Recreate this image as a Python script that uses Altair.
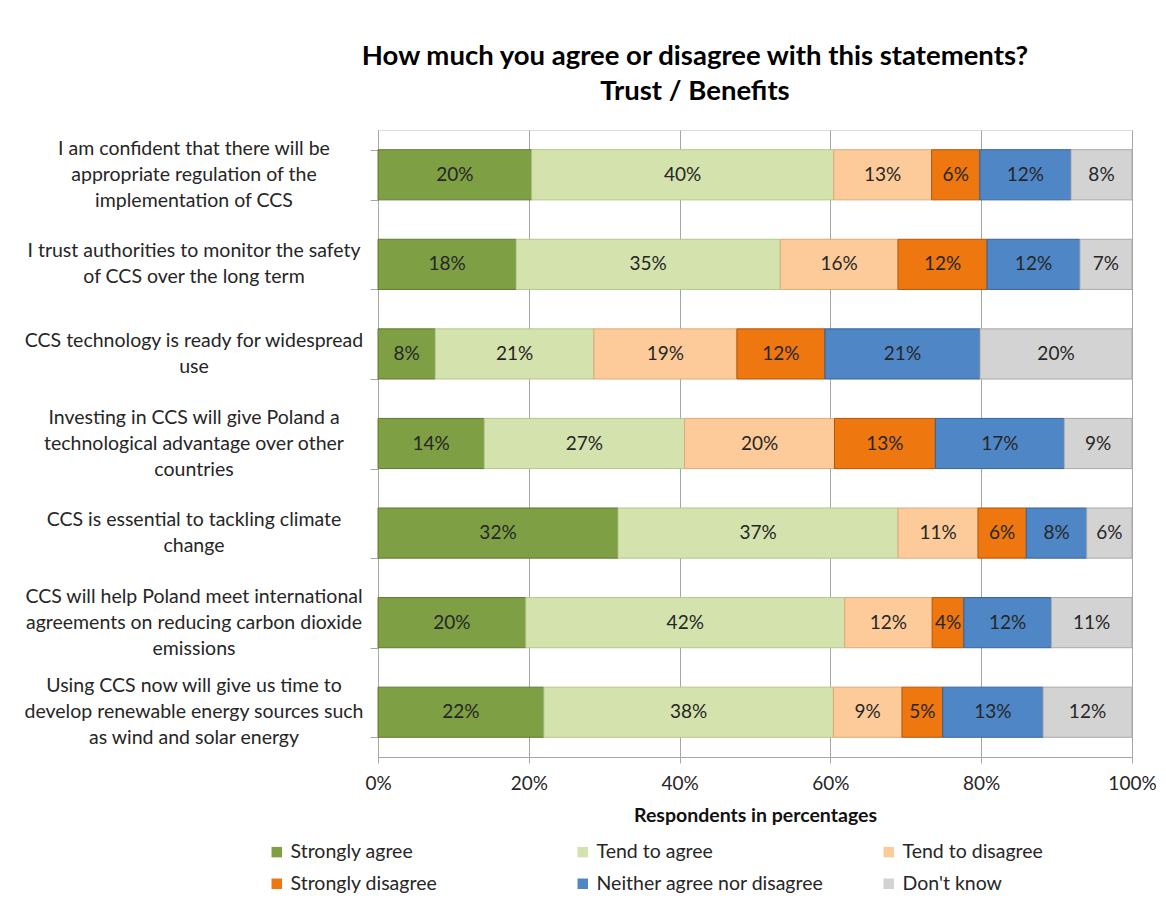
import altair as alt
import pandas as pd

statement_lines = [
    ["I am confident that there will be", "appropriate  regulation of the", "implementation of CCS"],
    ["I trust authorities to monitor the safety", "of CCS over the long term"],
    ["CCS technology is ready for widespread", "use"],
    ["Investing in CCS will give Poland a", "technological advantage over other", "countries"],
    ["CCS is essential to tackling climate", "change"],
    ["CCS will help Poland meet international", "agreements on reducing carbon dioxide", "emissions"],
    ["Using CCS now will give us time to", "develop renewable energy sources such", "as wind and solar energy"],
]

categories = ["Strongly agree", "Tend to agree", "Tend to disagree",
              "Strongly disagree", "Neither agree nor disagree", "Don't know"]

strongly_agree = [20.4, 18.3, 7.6, 14.1, 31.8, 19.6, 22.0]
tend_to_agree = [40.1, 35.0, 21.1, 26.6, 37.1, 42.3, 38.4]
tend_to_disagree = [13.0, 15.6, 19.0, 19.9, 10.6, 11.6, 9.1]
strongly_disagree = [6.4, 11.8, 11.7, 13.4, 6.4, 4.2, 5.4]
neither = [12.1, 12.3, 20.6, 17.1, 8.0, 11.6, 13.3]
dont_know = [8.1, 6.9, 20.2, 9.0, 6.0, 10.7, 11.8]

series = [strongly_agree, tend_to_agree, tend_to_disagree,
          strongly_disagree, neither, dont_know]

fill_colors = ["#7F9F44", "#D4E3AD", "#FDCB9A", "#EE770F", "#4F86C6", "#D3D3D3"]
edge_colors = ["#5E7A30", "#B3C78A", "#DDAA78", "#B4560A", "#386299", "#A8A8A8"]

statements = [" ".join(lines) for lines in statement_lines]

rows = []
for ci, (cat, vals) in enumerate(zip(categories, series)):
    for si, st in enumerate(statements):
        rows.append({"statement": st, "category": cat, "order": ci, "value": vals[si]})
df = pd.DataFrame(rows)

LINE_H = 26
line_rows = []
for st, lines in zip(statements, statement_lines):
    n = len(lines)
    for k, ln in enumerate(lines):
        line_rows.append({"statement": st, "line": ln,
                          "off": int((k - (n - 1) / 2) * LINE_H)})
line_df = pd.DataFrame(line_rows)

FONT = "Lato"
TXT = "#262626"
GRID = "#A6A6A6"

base = alt.Chart(df).transform_stack(
    stack="value", groupby=["statement"], as_=["v0", "v1"],
    sort=[alt.SortField("order", order="ascending")], offset="normalize"
).transform_calculate(
    mid="(datum.v0 + datum.v1) / 2",
    lbl="format(datum.value, '.0f') + '%'"
)

y_enc = alt.Y(
    "statement:N", sort=statements, title=None,
    scale=alt.Scale(paddingInner=0.44, paddingOuter=0.22),
    axis=alt.Axis(
        labels=False, tickSize=8, tickColor=GRID, domainColor=GRID,
        tickBand="extent", grid=False,
    ),
)

bars = base.mark_bar(strokeWidth=1).encode(
    y=y_enc,
    x=alt.X(
        "v0:Q", scale=alt.Scale(domain=[0, 1], nice=False),
        title="Respondents in percentages",
        axis=alt.Axis(
            format="%", values=[0, 0.2, 0.4, 0.6, 0.8, 1.0], grid=True, gridColor=GRID,
            tickSize=6, tickColor=GRID, domainColor=GRID, labelFontSize=19, labelFont=FONT,
            labelColor=TXT, labelPadding=11, labelFlush=False, titleFont=FONT,
            titleFontSize=19.5, titleFontWeight="bold", titleColor="#111111",
            titlePadding=13,
        ),
    ),
    x2="v1:Q",
    fill=alt.Fill(
        "category:N", sort=categories,
        scale=alt.Scale(domain=categories, range=fill_colors),
        legend=alt.Legend(
            title=None, orient="none", legendX=-111, legendY=712, columns=3,
            direction="horizontal", symbolType="square", symbolSize=110,
            symbolStrokeWidth=0, labelFontSize=19.5, labelFont=FONT, labelColor=TXT,
            labelLimit=400, gridAlign="all", columnPadding=55, rowPadding=11,
            labelOffset=4,
        ),
    ),
    stroke=alt.Stroke(
        "category:N", scale=alt.Scale(domain=categories, range=edge_colors), legend=None
    ),
)

labels = base.mark_text(fontSize=19, font=FONT, color=TXT).encode(
    y=alt.Y("statement:N", sort=statements),
    x=alt.X("mid:Q"),
    text="lbl:N",
)

# category (statement) labels, one text line per mark, centred block left of the axis
cat_layers = []
for off in sorted(line_df["off"].unique()):
    cat_layers.append(
        alt.Chart(line_df).transform_filter(alt.datum.off == int(off)).mark_text(
            fontSize=19.5, font=FONT, color=TXT, align="center", baseline="middle",
            dx=-184, dy=int(off),
        ).encode(
            y=alt.Y("statement:N", sort=statements),
            x=alt.datum(0),
            text="line:N",
        )
    )

chart = alt.layer(bars, labels, *cat_layers).properties(
    width=754, height=627,
    autosize=alt.AutoSizeParams(type="none"),
    padding={"left": 370, "top": 122, "right": 24, "bottom": 147},
    title=alt.TitleParams(
        text=["How much you agree or disagree with this statements?", "Trust / Benefits"],
        anchor="middle", frame="group", dx=-60, fontSize=27.5, font=FONT,
        fontWeight="bold", color="#000000", lineHeight=35, offset=25,
    ),
).configure_view(strokeWidth=0).configure(background="white")

chart.save("out.html", embed_options={"renderer": "svg", "actions": False})
